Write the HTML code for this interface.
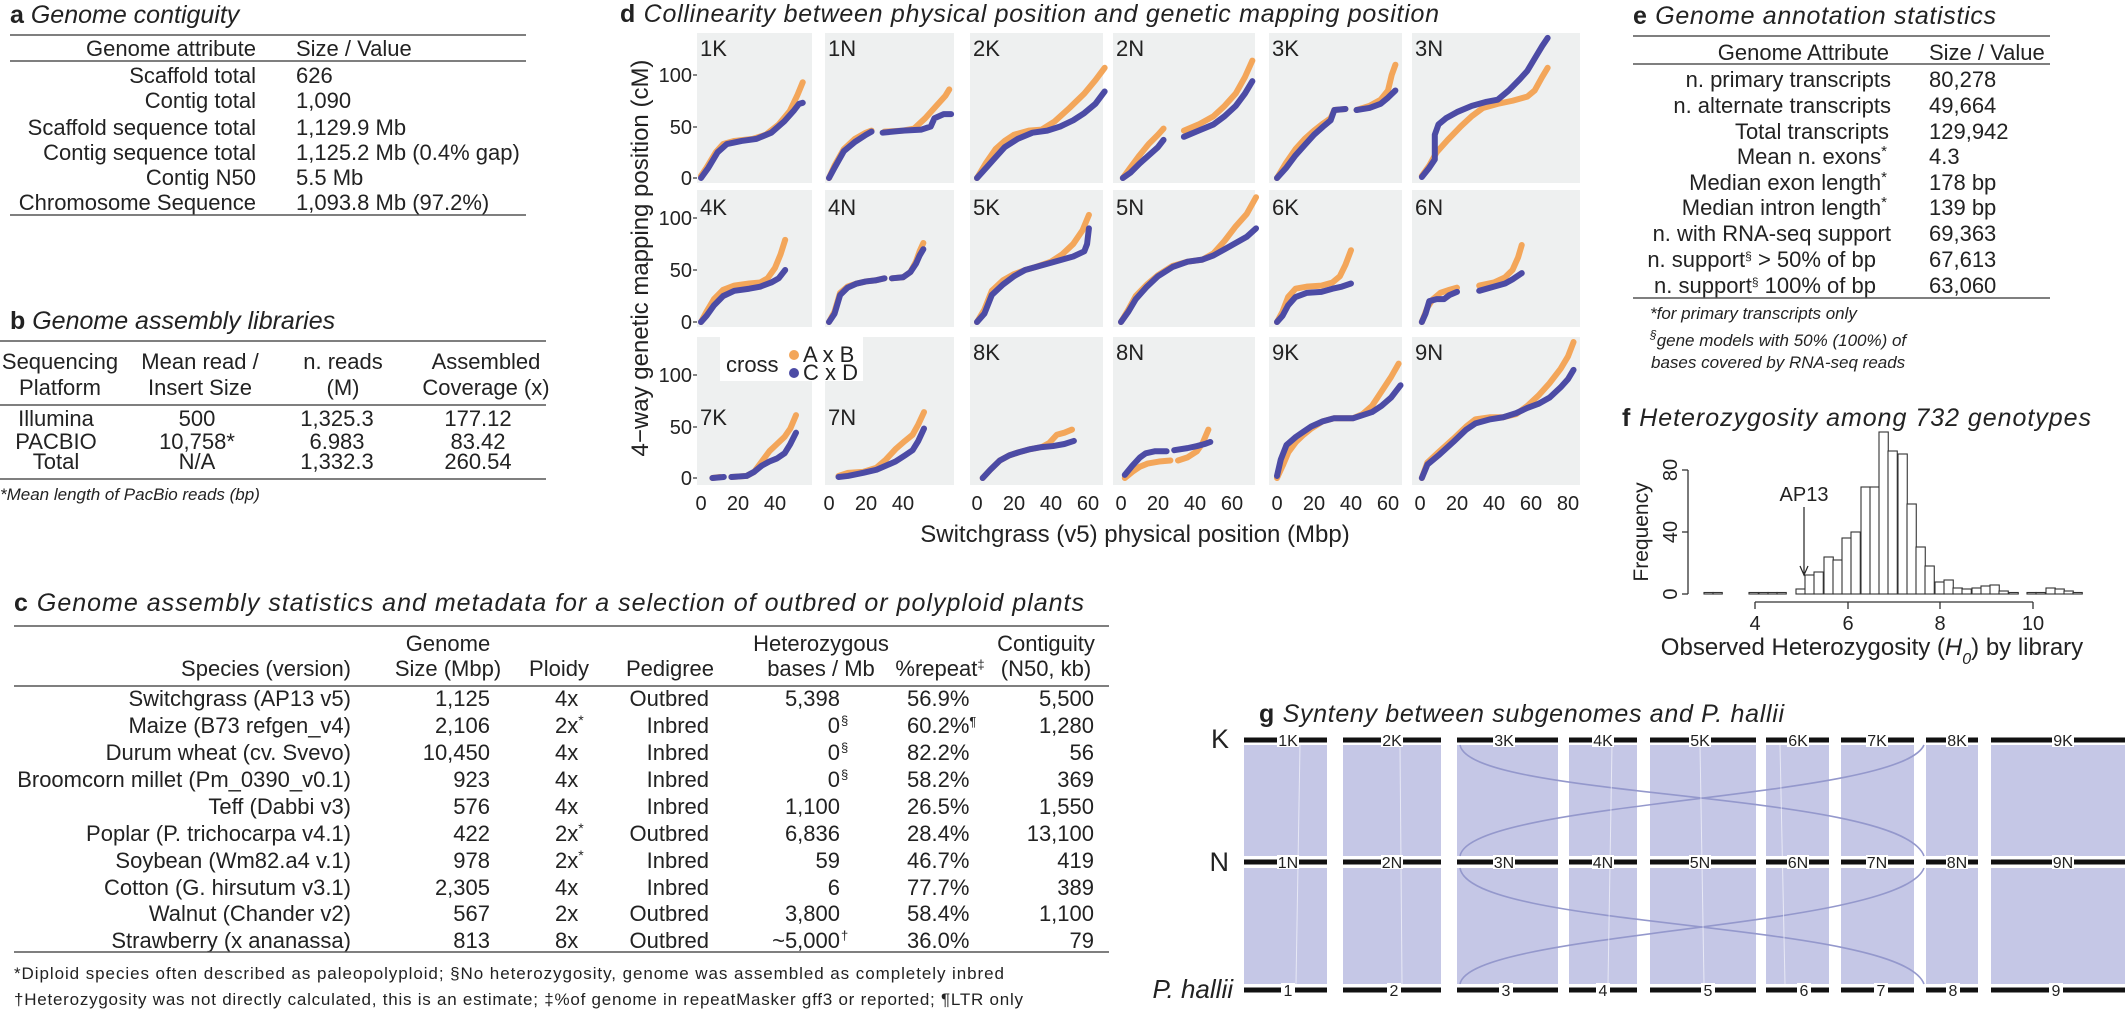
<!DOCTYPE html>
<html><head><meta charset="utf-8"><style>
html,body{margin:0;padding:0;background:#fff}
svg{display:block}
text{font-family:"Liberation Sans",Arial,sans-serif;fill:#222}
.t{font-size:22px}
.it{font-style:italic}
.ttl{font-size:25px;font-style:italic}
.b{font-weight:bold;font-style:normal}
.fn{font-size:17px}
.o{fill:none;stroke:#f3a65a;stroke-width:6;stroke-linecap:round;stroke-linejoin:round;vector-effect:non-scaling-stroke}
.u{fill:none;stroke:#4c4ba5;stroke-width:6;stroke-linecap:round;stroke-linejoin:round;vector-effect:non-scaling-stroke}
.pan{fill:#eef0f0}
.rule{stroke:#555;stroke-width:1.6}
.tk{font-size:20px}
.gl{stroke:#111;stroke-width:5}
.rib{fill:#c5c7e6}
.gt{font-size:16px;text-anchor:middle}
</style></head><body>
<svg width="2125" height="1010" viewBox="0 0 2125 1010" xmlns="http://www.w3.org/2000/svg">

<!-- ===== a ===== -->
<text x="10" y="23" class="ttl"><tspan class="b">a</tspan> Genome contiguity</text>
<line class="rule" x1="10" y1="35" x2="526" y2="35"/>
<text class="t" x="256" y="56" text-anchor="end">Genome attribute</text>
<text class="t" x="296" y="56">Size / Value</text>
<line class="rule" x1="10" y1="61" x2="526" y2="61"/>
<g class="t">
<text x="256" y="83" text-anchor="end">Scaffold total</text><text x="296" y="83">626</text>
<text x="256" y="108" text-anchor="end">Contig total</text><text x="296" y="108">1,090</text>
<text x="256" y="135" text-anchor="end">Scaffold sequence total</text><text x="296" y="135">1,129.9 Mb</text>
<text x="256" y="160" text-anchor="end">Contig sequence total</text><text x="296" y="160">1,125.2 Mb (0.4% gap)</text>
<text x="256" y="185" text-anchor="end">Contig N50</text><text x="296" y="185">5.5 Mb</text>
<text x="256" y="210" text-anchor="end">Chromosome Sequence</text><text x="296" y="210">1,093.8 Mb (97.2%)</text>
</g>
<line class="rule" x1="10" y1="215" x2="526" y2="215"/>

<!-- ===== b ===== -->
<text x="10" y="329" class="ttl"><tspan class="b">b</tspan> Genome assembly libraries</text>
<line class="rule" x1="0" y1="341" x2="546" y2="341"/>
<g class="t" text-anchor="middle">
<text x="60" y="369">Sequencing</text><text x="60" y="395">Platform</text>
<text x="200" y="369">Mean read /</text><text x="200" y="395">Insert Size</text>
<text x="343" y="369">n. reads</text><text x="343" y="395">(M)</text>
<text x="486" y="369">Assembled</text><text x="486" y="395">Coverage (x)</text>
</g>
<line class="rule" x1="0" y1="405" x2="546" y2="405"/>
<g class="t" text-anchor="middle">
<text x="56" y="426">Illumina</text><text x="197" y="426">500</text><text x="337" y="426">1,325.3</text><text x="478" y="426">177.12</text>
<text x="56" y="449">PACBIO</text><text x="197" y="449">10,758*</text><text x="337" y="449">6.983</text><text x="478" y="449">83.42</text>
<text x="56" y="469">Total</text><text x="197" y="469">N/A</text><text x="337" y="469">1,332.3</text><text x="478" y="469">260.54</text>
</g>
<line class="rule" x1="0" y1="479" x2="546" y2="479"/>
<text x="0" y="500" class="fn it">*Mean length of PacBio reads (bp)</text>

<!-- ===== c ===== -->
<text x="14" y="611" class="ttl" textLength="1070"><tspan class="b">c</tspan> Genome assembly statistics and metadata for a selection of outbred or polyploid plants</text>
<line class="rule" x1="14" y1="626" x2="1109" y2="626"/>
<g class="t">
<text x="448" y="651" text-anchor="middle">Genome</text>
<text x="448" y="676" text-anchor="middle">Size (Mbp)</text>
<text x="351" y="676" text-anchor="end">Species (version)</text>
<text x="559" y="676" text-anchor="middle">Ploidy</text>
<text x="670" y="676" text-anchor="middle">Pedigree</text>
<text x="821" y="651" text-anchor="middle">Heterozygous</text>
<text x="821" y="676" text-anchor="middle">bases / Mb</text>
<text x="940" y="676" text-anchor="middle">%repeat<tspan font-size="13" baseline-shift="super">‡</tspan></text>
<text x="1046" y="651" text-anchor="middle">Contiguity</text>
<text x="1046" y="676" text-anchor="middle">(N50, kb)</text>
</g>
<line class="rule" x1="14" y1="686" x2="1109" y2="686"/>
<g class="t">
<g text-anchor="end">
<text x="351" y="706">Switchgrass (AP13 v5)</text>
<text x="351" y="733">Maize (B73 refgen_v4)</text>
<text x="351" y="760">Durum wheat (cv. Svevo)</text>
<text x="351" y="787">Broomcorn millet (Pm_0390_v0.1)</text>
<text x="351" y="814">Teff (Dabbi v3)</text>
<text x="351" y="841">Poplar (P. trichocarpa v4.1)</text>
<text x="351" y="868">Soybean (Wm82.a4 v.1)</text>
<text x="351" y="895">Cotton (G. hirsutum v3.1)</text>
<text x="351" y="921">Walnut (Chander v2)</text>
<text x="351" y="948">Strawberry (x ananassa)</text>
<text x="490" y="706">1,125</text><text x="490" y="733">2,106</text><text x="490" y="760">10,450</text><text x="490" y="787">923</text><text x="490" y="814">576</text><text x="490" y="841">422</text><text x="490" y="868">978</text><text x="490" y="895">2,305</text><text x="490" y="921">567</text><text x="490" y="948">813</text>
<text x="709" y="706">Outbred</text><text x="709" y="733">Inbred</text><text x="709" y="760">Inbred</text><text x="709" y="787">Inbred</text><text x="709" y="814">Inbred</text><text x="709" y="841">Outbred</text><text x="709" y="868">Inbred</text><text x="709" y="895">Inbred</text><text x="709" y="921">Outbred</text><text x="709" y="948">Outbred</text>
<text x="840" y="706">5,398</text><text x="840" y="733">0</text><text x="840" y="760">0</text><text x="840" y="787">0</text><text x="840" y="814">1,100</text><text x="840" y="841">6,836</text><text x="840" y="868">59</text><text x="840" y="895">6</text><text x="840" y="921">3,800</text><text x="840" y="948">~5,000</text>
<text x="1094" y="706">5,500</text><text x="1094" y="733">1,280</text><text x="1094" y="760">56</text><text x="1094" y="787">369</text><text x="1094" y="814">1,550</text><text x="1094" y="841">13,100</text><text x="1094" y="868">419</text><text x="1094" y="895">389</text><text x="1094" y="921">1,100</text><text x="1094" y="948">79</text>
</g>
<g font-size="13"><text x="841" y="725">§</text><text x="841" y="752">§</text><text x="841" y="779">§</text><text x="841" y="940">†</text></g>
<text x="555" y="706">4x</text><text x="555" y="733">2x<tspan font-size="14" baseline-shift="super">*</tspan></text><text x="555" y="760">4x</text><text x="555" y="787">4x</text><text x="555" y="814">4x</text><text x="555" y="841">2x<tspan font-size="14" baseline-shift="super">*</tspan></text><text x="555" y="868">2x<tspan font-size="14" baseline-shift="super">*</tspan></text><text x="555" y="895">4x</text><text x="555" y="921">2x</text><text x="555" y="948">8x</text>
<text x="907" y="706">56.9%</text><text x="907" y="733">60.2%<tspan font-size="13" baseline-shift="super">¶</tspan></text><text x="907" y="760">82.2%</text><text x="907" y="787">58.2%</text><text x="907" y="814">26.5%</text><text x="907" y="841">28.4%</text><text x="907" y="868">46.7%</text><text x="907" y="895">77.7%</text><text x="907" y="921">58.4%</text><text x="907" y="948">36.0%</text>
</g>
<line class="rule" x1="14" y1="952" x2="1109" y2="952"/>
<text x="14" y="979" class="fn" textLength="990">*Diploid species often described as paleopolyploid; §No heterozygosity, genome was assembled as completely inbred</text>
<text x="14" y="1005" class="fn" textLength="1009">†Heterozygosity was not directly calculated, this is an estimate; ‡%of genome in repeatMasker gff3 or reported; ¶LTR only</text>

<!-- ===== d ===== -->
<text x="620" y="22" class="ttl" textLength="819"><tspan class="b">d</tspan> Collinearity between physical position and genetic mapping position</text>
<!-- panels -->
<g class="pan">
<rect x="697" y="33" width="115" height="150"/><rect x="825" y="33" width="129" height="150"/><rect x="970" y="33" width="133" height="150"/><rect x="1113" y="33" width="142" height="150"/><rect x="1269" y="33" width="133" height="150"/><rect x="1412" y="33" width="168" height="150"/>
<rect x="697" y="190" width="115" height="137"/><rect x="825" y="190" width="129" height="137"/><rect x="970" y="190" width="133" height="137"/><rect x="1113" y="190" width="142" height="137"/><rect x="1269" y="190" width="133" height="137"/><rect x="1412" y="190" width="168" height="137"/>
<rect x="697" y="337" width="115" height="148"/><rect x="825" y="337" width="129" height="148"/><rect x="970" y="337" width="133" height="148"/><rect x="1113" y="337" width="142" height="148"/><rect x="1269" y="337" width="133" height="148"/><rect x="1412" y="337" width="168" height="148"/>
</g>
<g class="t">
<text x="700" y="56">1K</text><text x="828" y="56">1N</text><text x="973" y="56">2K</text><text x="1116" y="56">2N</text><text x="1272" y="56">3K</text><text x="1415" y="56">3N</text>
<text x="700" y="215">4K</text><text x="828" y="215">4N</text><text x="973" y="215">5K</text><text x="1116" y="215">5N</text><text x="1272" y="215">6K</text><text x="1415" y="215">6N</text>
<text x="700" y="425">7K</text><text x="828" y="425">7N</text><text x="973" y="360">8K</text><text x="1116" y="360">8N</text><text x="1272" y="360">9K</text><text x="1415" y="360">9N</text>
</g>
<!-- y ticks -->
<g class="tk" text-anchor="end">
<text x="692" y="82">100</text><text x="692" y="134">50</text><text x="692" y="185">0</text>
<text x="692" y="225">100</text><text x="692" y="277">50</text><text x="692" y="329">0</text>
<text x="692" y="382">100</text><text x="692" y="434">50</text><text x="692" y="485">0</text>
</g>
<g stroke="#333" stroke-width="1.2">
<line x1="693" y1="75" x2="697" y2="75"/><line x1="693" y1="127" x2="697" y2="127"/><line x1="693" y1="178" x2="697" y2="178"/>
<line x1="693" y1="218" x2="697" y2="218"/><line x1="693" y1="270" x2="697" y2="270"/><line x1="693" y1="322" x2="697" y2="322"/>
<line x1="693" y1="375" x2="697" y2="375"/><line x1="693" y1="427" x2="697" y2="427"/><line x1="693" y1="478" x2="697" y2="478"/>
</g>
<text transform="translate(648,258) rotate(-90)" text-anchor="middle" font-size="24">4−way genetic mapping position (cM)</text>
<!-- x ticks -->
<g class="tk" text-anchor="middle">
<text x="701" y="510">0</text><text x="738" y="510">20</text><text x="775" y="510">40</text>
<text x="829" y="510">0</text><text x="866" y="510">20</text><text x="903" y="510">40</text>
<text x="977" y="510">0</text><text x="1014" y="510">20</text><text x="1051" y="510">40</text><text x="1088" y="510">60</text>
<text x="1121" y="510">0</text><text x="1158" y="510">20</text><text x="1195" y="510">40</text><text x="1232" y="510">60</text>
<text x="1277" y="510">0</text><text x="1314" y="510">20</text><text x="1351" y="510">40</text><text x="1388" y="510">60</text>
<text x="1420" y="510">0</text><text x="1457" y="510">20</text><text x="1494" y="510">40</text><text x="1531" y="510">60</text><text x="1568" y="510">80</text>
</g>
<text x="1135" y="542" text-anchor="middle" font-size="24">Switchgrass (v5) physical position (Mbp)</text>

<!-- curves row1 -->
<g transform="translate(701,178) scale(1.85,-1.03)">
<path class="o" d="M0,2 L3,10 8,25 12,33 18,36 28,38 35,42 42,52 48,65 52,80 55,93"/>
<path class="u" d="M0,0 L4,10 9,25 14,33 22,36 30,38 38,44 45,55 50,65 53,72 55,73"/>
</g>
<g transform="translate(829,178) scale(1.85,-1.03)">
<path class="o" d="M0,0 L3,12 8,28 14,38 20,44 23,46 M30,45 L40,46 46,48 52,58 58,70 63,80 65,86"/>
<path class="u" d="M0,0 L3,10 8,26 14,35 20,42 23,45 M29,44 L40,46 50,47 55,50 57,58 62,62 66,62"/>
</g>
<g transform="translate(977,178) scale(1.85,-1.03)">
<path class="o" d="M0,0 L5,15 10,28 15,36 20,42 28,46 35,47 42,55 50,68 58,82 64,95 69,107"/>
<path class="u" d="M0,0 L5,10 10,20 15,30 22,38 30,44 38,46 45,50 52,56 58,63 64,72 69,84"/>
</g>
<g transform="translate(1121,178) scale(1.85,-1.03)">
<path class="o" d="M1,0 L5,10 10,22 15,33 20,42 23,48 M34,46 L42,52 50,60 56,70 62,82 67,98 71,114"/>
<path class="u" d="M1,0 L5,5 10,14 15,22 20,30 23,37 M34,40 L42,46 50,52 56,60 62,70 67,82 71,94"/>
</g>
<g transform="translate(1277,178) scale(1.85,-1.03)">
<path class="o" d="M0,0 L5,15 10,28 15,38 20,46 25,53 29,58 31,66 37,67 M43,66 L50,70 56,76 60,85 62,100 64,110"/>
<path class="u" d="M0,0 L5,10 10,22 15,32 20,42 25,50 29,56 31,66 37,67 M43,66 L50,68 56,72 60,78 64,85"/>
</g>
<g transform="translate(1420,178) scale(1.85,-1.03)">
<path class="o" d="M1,2 L5,12 9,25 15,37 22,50 28,60 34,68 42,72 50,75 58,79 62,85 66,98 69,107"/>
<path class="u" d="M1,1 L5,10 8,18 8,42 10,52 14,58 20,64 28,70 36,74 42,76 48,85 54,96 58,104 62,116 66,128 69,136"/>
</g>
<!-- row2 -->
<g transform="translate(701,322) scale(1.85,-1.04)">
<path class="o" d="M0,0 L3,10 7,22 12,31 18,35 26,37 32,38 36,42 40,52 43,65 45.5,79"/>
<path class="u" d="M0,0 L3,6 7,16 12,25 18,30 26,32 32,34 38,38 42,42 45.5,50"/>
</g>
<g transform="translate(829,322) scale(1.85,-1.04)">
<path class="o" d="M0,0 L3,10 6,28 10,34 15,37 20,39 25,40 30,42 M34,42 L40,43 44,48 47,58 49,68 51,76"/>
<path class="u" d="M0,0 L3,8 6,26 10,33 15,37 20,39 25,40 30,42 M34,42 L40,43 44,48 47,56 49,64 51,70"/>
</g>
<g transform="translate(977,322) scale(1.85,-1.04)">
<path class="o" d="M0,0 L4,12 8,30 14,40 20,46 26,50 32,53 40,58 46,65 52,75 57,88 60.5,103"/>
<path class="u" d="M0,0 L4,8 8,26 14,36 20,44 26,50 32,53 40,57 46,60 52,63 58,68 59.5,75 60.5,90"/>
</g>
<g transform="translate(1121,322) scale(1.85,-1.04)">
<path class="o" d="M0,0 L4,12 8,25 14,36 20,45 28,54 36,58 44,60 50,66 56,78 62,92 68,104 73,120"/>
<path class="u" d="M0,0 L4,10 8,22 14,34 20,44 28,53 36,58 44,60 50,64 56,70 62,76 68,82 73,90"/>
</g>
<g transform="translate(1277,322) scale(1.85,-1.04)">
<path class="o" d="M0,0 L3,10 6,24 10,32 16,34 24,35 30,38 34,44 37,55 40,69"/>
<path class="u" d="M0,0 L3,6 6,16 10,24 16,28 24,29 30,32 35,34 40,37"/>
</g>
<g transform="translate(1420,322) scale(1.85,-1.04)">
<path class="o" d="M1,0 L4,14 7,22 11,28 16,31 20,33 M32,35 L40,38 46,43 50,50 53,62 55,74"/>
<path class="u" d="M1,0 L3,8 5,20 9,22 13,22 16,26 20,29 M32,30 L40,34 46,37 50,41 55,47"/>
</g>
<!-- row3 -->
<g transform="translate(701,478) scale(1.9,-1.03)">
<path class="o" d="M6,0 L10,1 M16,1 L24,2 28,6 32,16 36,26 40,33 44,40 47,48 50,61"/>
<path class="u" d="M6,0 L12,1 M16,1 L24,2 28,6 32,12 36,16 40,19 44,24 47,33 50,44"/>
</g>
<g transform="translate(829,478) scale(1.9,-1.03)">
<path class="o" d="M5,2 L10,5 18,6 25,10 30,18 35,28 40,36 44,42 47,52 50,64"/>
<path class="u" d="M5,1 L10,2 18,5 25,8 30,12 35,16 40,22 44,27 47,36 50,48"/>
</g>
<g transform="translate(977,478) scale(1.9,-1.03)">
<path class="o" d="M3,0 L7,8 12,17 17,22 22,25 28,28 34,30 38,34 42,42 46,44 50,47"/>
<path class="u" d="M3,0 L7,8 12,17 17,22 22,25 28,28 34,30 40,31 46,33 51,36"/>
</g>
<g transform="translate(1121,478) scale(1.9,-1.03)">
<path class="o" d="M2,0 L6,6 10,11 14,14 20,16 26,17 M30,17 L35,20 40,26 43,34 46,47"/>
<path class="u" d="M2,3 L6,12 10,20 13,24 18,26 24,26 M28,27 L35,29 40,31 44,33 47,35"/>
</g>
<g transform="translate(1277,478) scale(1.9,-1.03)">
<path class="o" d="M0,0 L3,12 6,25 10,35 14,42 18,48 24,55 30,58 40,58 45,62 50,70 55,84 60,98 64,111"/>
<path class="u" d="M0,2 L2,18 5,32 10,40 14,45 18,50 24,55 30,58 40,58 45,61 50,64 55,70 60,78 65,90"/>
</g>
<g transform="translate(1420,478) scale(1.85,-1.03)">
<path class="o" d="M1,0 L4,15 10,25 18,38 25,50 30,57 38,59 45,59 52,62 58,70 64,80 70,92 76,106 80,118 83,132"/>
<path class="u" d="M1,0 L4,13 10,22 18,35 25,47 30,53 38,57 45,59 52,63 58,68 64,72 70,78 76,88 80,96 83,105"/>
</g>
<!-- legend -->
<rect x="720" y="335" width="143" height="46" fill="#fff"/>
<text x="726" y="372" class="t">cross</text>
<circle cx="794" cy="355" r="5" fill="#f3a65a"/><circle cx="794" cy="373" r="5" fill="#4c4ba5"/>
<text x="803" y="362" class="t">A x B</text><text x="803" y="380" class="t">C x D</text>

<!-- ===== e ===== -->
<text x="1633" y="24" class="ttl" textLength="363"><tspan class="b">e</tspan> Genome annotation statistics</text>
<line class="rule" x1="1633" y1="36" x2="2050" y2="36"/>
<text class="t" x="1889" y="60" text-anchor="end">Genome Attribute</text>
<text class="t" x="1929" y="60">Size / Value</text>
<line class="rule" x1="1633" y1="64" x2="2050" y2="64"/>
<g class="t">
<g text-anchor="end">
<text x="1891" y="87">n. primary transcripts</text>
<text x="1891" y="113">n. alternate transcripts</text>
<text x="1889" y="139">Total transcripts</text>
<text x="1887" y="164">Mean n. exons<tspan font-size="15" baseline-shift="super">*</tspan></text>
<text x="1887" y="190">Median exon length<tspan font-size="15" baseline-shift="super">*</tspan></text>
<text x="1887" y="215">Median intron length<tspan font-size="15" baseline-shift="super">*</tspan></text>
<text x="1891" y="241">n. with RNA-seq support</text>
<text x="1876" y="267">n. support<tspan font-size="12" baseline-shift="super">§</tspan> &gt; 50% of bp</text>
<text x="1876" y="293">n. support<tspan font-size="12" baseline-shift="super">§</tspan> 100% of bp</text>
</g>
<text x="1929" y="87">80,278</text><text x="1929" y="113">49,664</text><text x="1929" y="139">129,942</text><text x="1929" y="164">4.3</text><text x="1929" y="190">178 bp</text><text x="1929" y="215">139 bp</text><text x="1929" y="241">69,363</text><text x="1929" y="267">67,613</text><text x="1929" y="293">63,060</text>
</g>
<line class="rule" x1="1633" y1="298" x2="2050" y2="298"/>
<g class="fn it">
<text x="1650" y="319">*for primary transcripts only</text>
<text x="1650" y="346"><tspan font-size="12" baseline-shift="super">§</tspan>gene models with 50% (100%) of</text>
<text x="1651" y="368">bases covered by RNA-seq reads</text>
</g>

<!-- ===== f ===== -->
<text x="1622" y="426" class="ttl" textLength="469"><tspan class="b">f</tspan> Heterozygosity among 732 genotypes</text>
<line x1="1688" y1="470" x2="1688" y2="594" stroke="#333" stroke-width="1.3"/>
<g stroke="#333" stroke-width="1.3"><line x1="1682" y1="470" x2="1688" y2="470"/><line x1="1682" y1="532" x2="1688" y2="532"/><line x1="1682" y1="594" x2="1688" y2="594"/></g>
<g class="tk" text-anchor="middle">
<text transform="translate(1677,594) rotate(-90)">0</text>
<text transform="translate(1677,532) rotate(-90)">40</text>
<text transform="translate(1677,470) rotate(-90)">80</text>
</g>
<text transform="translate(1648,532) rotate(-90)" text-anchor="middle" font-size="21">Frequency</text>
<line x1="1755" y1="602" x2="2033" y2="602" stroke="#333" stroke-width="1.3"/>
<g stroke="#333" stroke-width="1.3"><line x1="1755" y1="602" x2="1755" y2="609"/><line x1="1848" y1="602" x2="1848" y2="609"/><line x1="1940" y1="602" x2="1940" y2="609"/><line x1="2033" y1="602" x2="2033" y2="609"/></g>
<g class="tk" text-anchor="middle"><text x="1755" y="630">4</text><text x="1848" y="630">6</text><text x="1940" y="630">8</text><text x="2033" y="630">10</text></g>
<text x="1872" y="655" text-anchor="middle" font-size="24">Observed Heterozygosity (<tspan font-style="italic">H</tspan><tspan font-style="italic" font-size="16" baseline-shift="sub">0</tspan>) by library</text>
<g fill="#fff" stroke="#333" stroke-width="1.1">
<rect x="1704" y="592.5" width="9.26" height="1.5"/><rect x="1713" y="592.5" width="9.26" height="1.5"/>
<rect x="1749" y="592.5" width="9.26" height="1.5"/><rect x="1759" y="592.5" width="9.26" height="1.5"/><rect x="1768" y="592.5" width="9.26" height="1.5"/><rect x="1777" y="592.5" width="9.26" height="1.5"/>
<rect x="1796" y="589" width="9.26" height="5"/>
<rect x="1805" y="575" width="9.26" height="19"/>
<rect x="1814" y="572" width="9.26" height="22"/>
<rect x="1824" y="557" width="9.26" height="37"/>
<rect x="1833" y="560" width="9.26" height="34"/>
<rect x="1842" y="538" width="9.26" height="56"/>
<rect x="1851" y="532" width="9.26" height="62"/>
<rect x="1861" y="487" width="9.26" height="107"/>
<rect x="1870" y="487" width="9.26" height="107"/>
<rect x="1879" y="432" width="9.26" height="162"/>
<rect x="1888" y="451" width="9.26" height="143"/>
<rect x="1898" y="454" width="9.26" height="140"/>
<rect x="1907" y="504" width="9.26" height="90"/>
<rect x="1916" y="547" width="9.26" height="47"/>
<rect x="1925" y="566" width="9.26" height="28"/>
<rect x="1935" y="582" width="9.26" height="12"/>
<rect x="1944" y="580" width="9.26" height="14"/>
<rect x="1953" y="588" width="9.26" height="6"/>
<rect x="1962" y="589" width="9.26" height="5"/>
<rect x="1972" y="588" width="9.26" height="6"/>
<rect x="1981" y="586" width="9.26" height="8"/>
<rect x="1990" y="585" width="9.26" height="9"/>
<rect x="1999" y="591" width="9.26" height="3"/>
<rect x="2009" y="592.5" width="9.26" height="1.5"/>
<rect x="2027" y="592.5" width="9.26" height="1.5"/>
<rect x="2036" y="592.5" width="9.26" height="1.5"/>
<rect x="2046" y="588" width="9.26" height="6"/>
<rect x="2055" y="589" width="9.26" height="5"/>
<rect x="2064" y="591" width="9.26" height="3"/>
<rect x="2073" y="592.5" width="9.26" height="1.5"/>
</g>
<text x="1804" y="501" text-anchor="middle" font-size="20">AP13</text>
<line x1="1804" y1="507" x2="1804" y2="573" stroke="#222" stroke-width="1.2"/>
<path d="M1800,566 L1804,575 L1808,566" fill="none" stroke="#222" stroke-width="1.2"/>

<!-- ===== g ===== -->
<text x="1259" y="722" class="ttl" textLength="525"><tspan class="b">g</tspan> Synteny between subgenomes and P. hallii</text>
<g class="rib">
<rect x="1244" y="745" width="83" height="111"/><rect x="1343" y="745" width="98" height="111"/><rect x="1457" y="745" width="101" height="111"/><rect x="1569" y="745" width="68" height="111"/><rect x="1650" y="745" width="106" height="111"/><rect x="1766" y="745" width="63" height="111"/><rect x="1841" y="745" width="73" height="111"/><rect x="1926" y="745" width="52" height="111"/><rect x="1991" y="745" width="134" height="111"/>
<rect x="1244" y="868" width="83" height="116"/><rect x="1343" y="868" width="98" height="116"/><rect x="1457" y="868" width="101" height="116"/><rect x="1569" y="868" width="68" height="116"/><rect x="1650" y="868" width="106" height="116"/><rect x="1766" y="868" width="63" height="116"/><rect x="1841" y="868" width="73" height="116"/><rect x="1926" y="868" width="52" height="116"/><rect x="1991" y="868" width="134" height="116"/>
</g>
<g fill="none" stroke="#9498cc" stroke-width="1.6">
<path d="M1460,745 C1470,800 1900,790 1924,856"/>
<path d="M1924,745 C1900,800 1470,800 1460,856"/>
<path d="M1460,868 C1470,930 1900,920 1924,984"/>
<path d="M1924,868 C1900,930 1470,930 1460,984"/>
</g>
<g stroke="#fff" stroke-width="1" opacity="0.6">
<line x1="1300" y1="745" x2="1296" y2="984"/><line x1="1400" y1="745" x2="1402" y2="984"/><line x1="1612" y1="745" x2="1608" y2="984"/><line x1="1700" y1="745" x2="1704" y2="984"/><line x1="1780" y1="745" x2="1785" y2="984"/>
</g>
<g class="gl">
<line x1="1244" y1="740" x2="1327" y2="740"/><line x1="1343" y1="740" x2="1441" y2="740"/><line x1="1457" y1="740" x2="1558" y2="740"/><line x1="1569" y1="740" x2="1637" y2="740"/><line x1="1650" y1="740" x2="1756" y2="740"/><line x1="1766" y1="740" x2="1829" y2="740"/><line x1="1841" y1="740" x2="1914" y2="740"/><line x1="1926" y1="740" x2="1978" y2="740"/><line x1="1991" y1="740" x2="2125" y2="740"/>
<line x1="1244" y1="862" x2="1327" y2="862"/><line x1="1343" y1="862" x2="1441" y2="862"/><line x1="1457" y1="862" x2="1558" y2="862"/><line x1="1569" y1="862" x2="1637" y2="862"/><line x1="1650" y1="862" x2="1756" y2="862"/><line x1="1766" y1="862" x2="1829" y2="862"/><line x1="1841" y1="862" x2="1914" y2="862"/><line x1="1926" y1="862" x2="1978" y2="862"/><line x1="1991" y1="862" x2="2125" y2="862"/>
<line x1="1244" y1="990" x2="1327" y2="990"/><line x1="1343" y1="990" x2="1441" y2="990"/><line x1="1457" y1="990" x2="1558" y2="990"/><line x1="1569" y1="990" x2="1637" y2="990"/><line x1="1650" y1="990" x2="1756" y2="990"/><line x1="1766" y1="990" x2="1829" y2="990"/><line x1="1841" y1="990" x2="1914" y2="990"/><line x1="1926" y1="990" x2="1978" y2="990"/><line x1="1991" y1="990" x2="2125" y2="990"/>
</g>
<g fill="#fff">
<rect x="1277" y="733" width="22" height="14"/><rect x="1381" y="733" width="22" height="14"/><rect x="1493" y="733" width="22" height="14"/><rect x="1592" y="733" width="22" height="14"/><rect x="1689" y="733" width="22" height="14"/><rect x="1787" y="733" width="22" height="14"/><rect x="1866" y="733" width="22" height="14"/><rect x="1946" y="733" width="22" height="14"/><rect x="2052" y="733" width="22" height="14"/>
<rect x="1277" y="855" width="22" height="14"/><rect x="1381" y="855" width="22" height="14"/><rect x="1493" y="855" width="22" height="14"/><rect x="1592" y="855" width="22" height="14"/><rect x="1689" y="855" width="22" height="14"/><rect x="1787" y="855" width="22" height="14"/><rect x="1866" y="855" width="22" height="14"/><rect x="1946" y="855" width="22" height="14"/><rect x="2052" y="855" width="22" height="14"/>
<rect x="1281" y="983" width="14" height="14"/><rect x="1387" y="983" width="14" height="14"/><rect x="1499" y="983" width="14" height="14"/><rect x="1596" y="983" width="14" height="14"/><rect x="1701" y="983" width="14" height="14"/><rect x="1797" y="983" width="14" height="14"/><rect x="1874" y="983" width="14" height="14"/><rect x="1946" y="983" width="14" height="14"/><rect x="2049" y="983" width="14" height="14"/>
</g>
<g class="gt">
<text x="1288" y="746">1K</text><text x="1392" y="746">2K</text><text x="1504" y="746">3K</text><text x="1603" y="746">4K</text><text x="1700" y="746">5K</text><text x="1798" y="746">6K</text><text x="1877" y="746">7K</text><text x="1957" y="746">8K</text><text x="2063" y="746">9K</text>
<text x="1288" y="868">1N</text><text x="1392" y="868">2N</text><text x="1504" y="868">3N</text><text x="1603" y="868">4N</text><text x="1700" y="868">5N</text><text x="1798" y="868">6N</text><text x="1877" y="868">7N</text><text x="1957" y="868">8N</text><text x="2063" y="868">9N</text>
<text x="1288" y="996">1</text><text x="1394" y="996">2</text><text x="1506" y="996">3</text><text x="1603" y="996">4</text><text x="1708" y="996">5</text><text x="1804" y="996">6</text><text x="1881" y="996">7</text><text x="1953" y="996">8</text><text x="2056" y="996">9</text>
</g>
<text x="1229" y="748" text-anchor="end" font-size="27">K</text>
<text x="1229" y="871" text-anchor="end" font-size="27">N</text>
<text x="1233" y="998" text-anchor="end" font-size="26" font-style="italic">P. hallii</text>
</svg>
</body></html>
